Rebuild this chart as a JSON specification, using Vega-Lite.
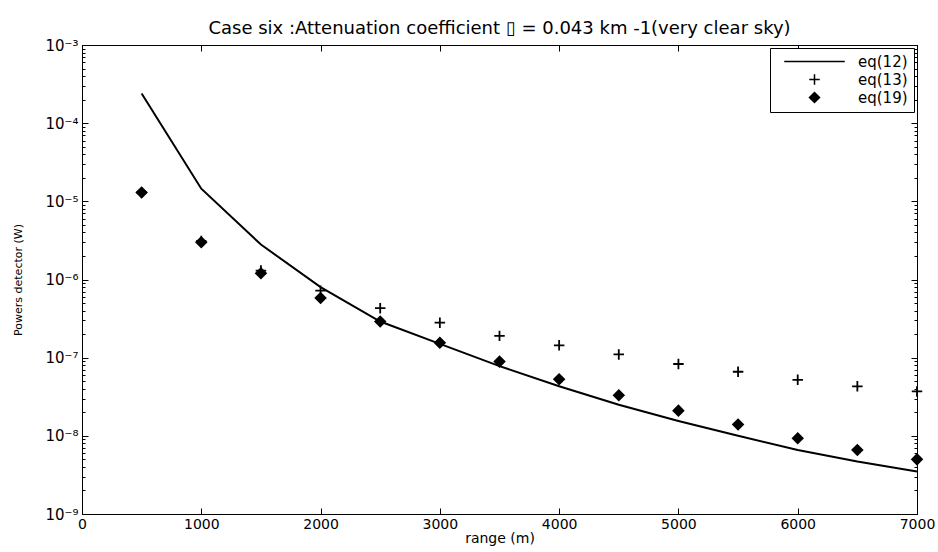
{
  "$schema": "https://vega.github.io/schema/vega-lite/v6.json",
  "width": 835,
  "height": 469,
  "autosize": {"type": "none"},
  "padding": {"left": 82, "top": 45, "right": 21, "bottom": 38},
  "background": "white",
  "title": {"text": "Case six :Attenuation coefficient \u25af = 0.043 km -1(very clear sky)", "fontSize": 18, "fontWeight": "normal", "font": "DejaVu Sans", "color": "black", "offset": 0},
  "config": {
    "font": "DejaVu Sans",
    "view": {"stroke": "black", "strokeWidth": 1},
    "axis": {"domainColor": "black", "tickColor": "black", "labelColor": "black", "titleColor": "black", "grid": false, "labelFont": "DejaVu Sans", "titleFont": "DejaVu Sans", "titleFontWeight": "normal"}
  },
  "data": {"values": [
    {"range": 500, "power": 2.4e-4, "series": "eq(12)"},
    {"range": 1000, "power": 1.45e-5, "series": "eq(12)"},
    {"range": 1500, "power": 2.8e-6, "series": "eq(12)"},
    {"range": 2000, "power": 8.0e-7, "series": "eq(12)"},
    {"range": 2500, "power": 2.9e-7, "series": "eq(12)"},
    {"range": 3000, "power": 1.5e-7, "series": "eq(12)"},
    {"range": 3500, "power": 7.8e-8, "series": "eq(12)"},
    {"range": 4000, "power": 4.3e-8, "series": "eq(12)"},
    {"range": 4500, "power": 2.5e-8, "series": "eq(12)"},
    {"range": 5000, "power": 1.55e-8, "series": "eq(12)"},
    {"range": 5500, "power": 1.0e-8, "series": "eq(12)"},
    {"range": 6000, "power": 6.6e-9, "series": "eq(12)"},
    {"range": 6500, "power": 4.7e-9, "series": "eq(12)"},
    {"range": 7000, "power": 3.5e-9, "series": "eq(12)"},
    {"range": 500, "power": 1.3e-5, "series": "eq(13)"},
    {"range": 1000, "power": 3.1e-6, "series": "eq(13)"},
    {"range": 1500, "power": 1.3e-6, "series": "eq(13)"},
    {"range": 2000, "power": 7.2e-7, "series": "eq(13)"},
    {"range": 2500, "power": 4.3e-7, "series": "eq(13)"},
    {"range": 3000, "power": 2.8e-7, "series": "eq(13)"},
    {"range": 3500, "power": 1.9e-7, "series": "eq(13)"},
    {"range": 4000, "power": 1.44e-7, "series": "eq(13)"},
    {"range": 4500, "power": 1.1e-7, "series": "eq(13)"},
    {"range": 5000, "power": 8.3e-8, "series": "eq(13)"},
    {"range": 5500, "power": 6.6e-8, "series": "eq(13)"},
    {"range": 6000, "power": 5.2e-8, "series": "eq(13)"},
    {"range": 6500, "power": 4.3e-8, "series": "eq(13)"},
    {"range": 7000, "power": 3.7e-8, "series": "eq(13)"},
    {"range": 500, "power": 1.3e-5, "series": "eq(19)"},
    {"range": 1000, "power": 3.0e-6, "series": "eq(19)"},
    {"range": 1500, "power": 1.2e-6, "series": "eq(19)"},
    {"range": 2000, "power": 5.8e-7, "series": "eq(19)"},
    {"range": 2500, "power": 2.9e-7, "series": "eq(19)"},
    {"range": 3000, "power": 1.55e-7, "series": "eq(19)"},
    {"range": 3500, "power": 8.9e-8, "series": "eq(19)"},
    {"range": 4000, "power": 5.3e-8, "series": "eq(19)"},
    {"range": 4500, "power": 3.3e-8, "series": "eq(19)"},
    {"range": 5000, "power": 2.1e-8, "series": "eq(19)"},
    {"range": 5500, "power": 1.4e-8, "series": "eq(19)"},
    {"range": 6000, "power": 9.3e-9, "series": "eq(19)"},
    {"range": 6500, "power": 6.6e-9, "series": "eq(19)"},
    {"range": 7000, "power": 5.0e-9, "series": "eq(19)"}
  ]},
  "layer": [
    {
      "transform": [{"filter": "datum.series == 'eq(12)'"}],
      "mark": {"type": "line", "color": "black", "strokeWidth": 2},
      "encoding": {
        "x": {"field": "range", "type": "quantitative", "scale": {"domain": [0, 7000], "nice": false, "zero": false},
          "axis": {"orient": "bottom", "values": [0, 1000, 2000, 3000, 4000, 5000, 6000, 7000], "format": "d", "labelFontSize": 14, "tickSize": -6, "labelPadding": 9, "title": "range (m)", "titleFontSize": 14, "titlePadding": 0, "labelFlush": false}},
        "y": {"field": "power", "type": "quantitative", "scale": {"type": "log", "domain": [1e-9, 1e-3], "nice": false},
          "axis": {"orient": "left",
            "values": [1e-9, 2e-9, 3e-9, 4e-9, 5e-9, 6e-9, 7e-9, 8e-9, 9e-9, 1e-8, 2e-8, 3e-8, 4e-8, 5e-8, 6e-8, 7e-8, 8e-8, 9e-8, 1e-7, 2e-7, 3e-7, 4e-7, 5e-7, 6e-7, 7e-7, 8e-7, 9e-7, 1e-6, 2e-6, 3e-6, 4e-6, 5e-6, 6e-6, 7e-6, 8e-6, 9e-6, 1e-5, 2e-5, 3e-5, 4e-5, 5e-5, 6e-5, 7e-5, 8e-5, 9e-5, 1e-4, 2e-4, 3e-4, 4e-4, 5e-4, 6e-4, 7e-4, 8e-4, 9e-4, 1e-3],
            "labelExpr": "abs(log(datum.value)/LN10 - round(log(datum.value)/LN10)) < 0.001 ? '10' + ['\u207b\u2079','\u207b\u2078','\u207b\u2077','\u207b\u2076','\u207b\u2075','\u207b\u2074','\u207b\u00b3'][round(log(datum.value)/LN10)+9] : ''",
            "labelFontSize": 15, "labelOverlap": false, "labelPadding": 10,
            "tickSize": {"condition": {"test": "abs(log(datum.value)/LN10 - round(log(datum.value)/LN10)) < 0.001", "value": -6}, "value": -3},
            "title": "Powers detector (W)", "titleFontSize": 11, "titlePadding": 21}}
      }
    },
    {
      "transform": [{"filter": "datum.series != 'eq(12)'"}],
      "mark": {"type": "point", "filled": true, "fill": "black", "stroke": "black", "strokeWidth": 1.8, "opacity": 1},
      "encoding": {
        "x": {"field": "range", "type": "quantitative", "scale": {"domain": [0, 7000], "nice": false, "zero": false},
          "axis": {"orient": "top", "values": [0, 1000, 2000, 3000, 4000, 5000, 6000, 7000], "labels": false, "tickSize": -6, "title": null}},
        "y": {"field": "power", "type": "quantitative", "scale": {"type": "log", "domain": [1e-9, 1e-3], "nice": false},
          "axis": {"orient": "right", "labels": false, "title": null,
            "values": [1e-9, 2e-9, 3e-9, 4e-9, 5e-9, 6e-9, 7e-9, 8e-9, 9e-9, 1e-8, 2e-8, 3e-8, 4e-8, 5e-8, 6e-8, 7e-8, 8e-8, 9e-8, 1e-7, 2e-7, 3e-7, 4e-7, 5e-7, 6e-7, 7e-7, 8e-7, 9e-7, 1e-6, 2e-6, 3e-6, 4e-6, 5e-6, 6e-6, 7e-6, 8e-6, 9e-6, 1e-5, 2e-5, 3e-5, 4e-5, 5e-5, 6e-5, 7e-5, 8e-5, 9e-5, 1e-4, 2e-4, 3e-4, 4e-4, 5e-4, 6e-4, 7e-4, 8e-4, 9e-4, 1e-3],
            "tickSize": {"condition": {"test": "abs(log(datum.value)/LN10 - round(log(datum.value)/LN10)) < 0.001", "value": -6}, "value": -3}}},
        "shape": {"field": "series", "type": "nominal",
          "scale": {"domain": ["eq(12)", "eq(13)", "eq(19)"], "range": ["M-5.5,0H5.5", "M-1,0H1M0,-1V1", "diamond"]},
          "legend": {"title": null, "orient": "top-right", "offset": 3, "strokeColor": "black", "fillColor": "white", "padding": 6, "labelFontSize": 15, "labelColor": "black", "symbolOffset": 31, "rowPadding": 1, "labelOffset": 36,
            "encode": {"symbols": {"update": {"stroke": {"value": "black"}, "strokeWidth": {"value": 2}, "fill": {"value": "black"}}}}}},
        "size": {"field": "series", "type": "nominal",
          "scale": {"type": "ordinal", "domain": ["eq(12)", "eq(13)", "eq(19)"], "range": [121, 110, 100]},
          "legend": {"title": null, "orient": "top-right", "offset": 3, "strokeColor": "black", "fillColor": "white", "padding": 6, "labelFontSize": 15, "labelColor": "black", "symbolOffset": 31, "rowPadding": 1, "labelOffset": 36,
            "encode": {"symbols": {"update": {"stroke": {"value": "black"}, "strokeWidth": {"value": 2}, "fill": {"value": "black"}}}}}}
      }
    }
  ],
  "resolve": {"axis": {"x": "independent", "y": "independent"}}
}
